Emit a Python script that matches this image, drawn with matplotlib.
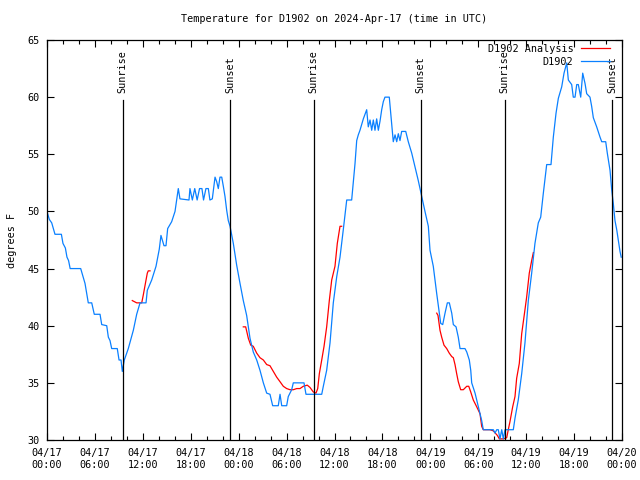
import matplotlib
matplotlib.use('Agg')
import matplotlib.pyplot as plt
import numpy as np
from matplotlib.ticker import MultipleLocator

plt.rcParams['font.family'] = 'DejaVu Sans Mono'
plt.rcParams['font.size'] = 7.3

# Zeit in Stunden ab 04/17 00:00 UTC
obs_h = [0, 0.29, 0.59, 1.0, 1.8, 2.0, 2.3, 2.5, 2.7, 2.9, 4.22, 4.47, 4.76, 4.97, 5.17,
         5.6, 5.92, 6.64, 6.85, 7.48, 7.68, 7.89, 8.1, 8.8, 9.02, 9.27, 9.43,
         9.68, 10.18, 10.81, 11.23, 11.65, 12.4, 12.56, 13.11, 13.65, 14.06, 14.27, 14.65,
         14.9, 15.11, 15.61, 16.03, 16.44, 16.65, 17.78, 17.9, 18.2, 18.5, 18.8, 19.1,
         19.4, 19.6, 19.9, 20.2, 20.4, 20.7, 21.04, 21.25, 21.45, 21.66, 21.88, 22.08,
         22.29, 22.5, 22.7, 22.92, 23.33, 23.75, 24.17, 24.58, 25.0, 25.42, 25.83, 26.26,
         26.67, 27.09, 27.51, 27.92, 28.26, 28.96, 29.18, 29.39, 30.01, 30.21, 30.64, 30.84,
         32.18, 32.43, 34.4, 34.6, 35.02, 35.44, 35.85, 36.28, 36.69, 37.1, 37.53, 38.15,
         38.35, 38.57, 38.78, 38.98, 39.19, 39.61, 40.03, 40.23, 40.45, 40.66, 40.86, 41.07,
         41.28, 41.49, 41.7, 41.91, 42.11, 42.32, 42.86, 43.16, 43.36, 43.58, 43.79, 43.99,
         44.2, 44.41, 44.92, 45.24, 45.67, 46.08, 46.49, 46.92, 47.33, 47.75, 47.96, 48.37,
         48.8, 49.12, 49.3, 49.55, 49.84, 50.13, 50.38, 50.68, 50.88, 51.22, 51.5, 51.72,
         52.34, 52.56, 52.88, 53.06, 53.18, 53.6, 54.01, 54.43, 54.63, 55.89, 56.1, 56.31,
         56.51, 56.72, 56.94, 57.14, 57.35, 58.39, 58.6, 59.01, 59.44, 59.85, 60.27, 60.69,
         61.1, 61.52, 61.82, 62.15, 62.57, 63.11, 63.4, 63.74, 64.03, 64.45, 64.74, 65.08,
         65.28, 65.7, 65.9, 66.12, 66.33, 66.53, 66.83, 67.08, 67.37, 67.58, 67.99, 68.2,
         68.41, 68.83, 69.25, 69.46, 69.96, 70.16, 70.5, 70.71, 70.91, 71.12, 71.34, 71.54,
         71.75, 71.9]
obs_t = [50, 49.3, 49, 48, 48, 47.2, 46.8, 46, 45.7, 45, 45, 44.4, 43.7, 42.8, 42,
         42, 41, 41, 40.1, 40, 39, 38.7, 38, 38, 37, 37, 36,
         37, 38, 39.6, 41, 42, 42, 43.1, 44, 45.2, 46.7, 47.9, 47,
         47, 48.5, 49.1, 50, 52, 51.1, 51, 52, 51, 52, 51, 52,
         52, 51, 52, 52, 51, 51.1, 53, 52.6, 52, 53, 53, 52.2,
         51.3, 50.1, 49.2, 48.7, 47.2, 45.3, 43.7, 42.2, 40.9, 38.9, 37.7, 37,
         36.1, 35, 34.1, 34, 33, 33, 34, 33, 33, 33.8, 34.4, 35,
         35, 34, 34, 34.7, 36.1, 38.5, 42, 44.3, 46, 48.4, 51, 51,
         52.5, 54.2, 56.2, 56.7, 57.1, 58.1, 58.9, 57.4, 58, 57.1, 58, 57.1,
         58.1, 57.1, 57.9, 58.9, 59.6, 60, 60, 57.6, 56.1, 56.7, 56.1, 56.8,
         56.2, 57, 57, 56.1, 55.1, 53.9, 52.7, 51.3, 50, 48.7, 46.6, 45.2,
         42.8, 41.1, 40.2, 40.1, 41.1, 42, 42, 41.1, 40.1, 39.9, 39, 38,
         38, 37.7, 37, 36.1, 35, 34.1, 32.9, 31.7, 30.9, 30.9, 30.6, 30.9,
         30.9, 30.1, 30.9, 30.1, 30.9, 30.9, 31.9, 33.5, 35.8, 38.5, 42.2, 44.6,
         47.2, 49, 49.5, 51.6, 54.1, 54.1, 56.5, 58.6, 59.9, 60.9, 62.1, 63,
         61.5, 61.1, 60, 60, 61.1, 61.1, 60, 62.1, 61.2, 60.3, 60, 59.2,
         58.2, 57.4, 56.5, 56.1, 56.1, 55.1, 53.6, 51.9, 50.7, 49.2, 48.4, 47.5,
         46.5, 46]

# Analyse (drei Abschnitte)
ana1_h = [10.68, 11.23, 11.86, 12.06, 12.4, 12.56, 12.68, 12.9]
ana1_t = [42.2, 42.0, 42.0, 42.7, 44, 44.6, 44.8, 44.8]
ana2_h = [24.58, 24.88, 25.21, 25.51, 25.83, 26.26, 26.67, 27.09, 27.51, 27.92, 28.34,
          28.76, 29.18, 29.59, 30.01, 30.43, 30.84, 31.27, 31.68, 32.09, 32.59, 32.93,
          33.35, 33.68, 33.9, 34.1, 34.4, 34.69, 35.02, 35.35, 35.65, 36.06, 36.35, 36.69, 36.9]
ana2_t = [39.9, 39.9, 38.9, 38.3, 38.2, 37.6, 37.2, 37, 36.6, 36.5, 36,
          35.5, 35.1, 34.7, 34.5, 34.4, 34.4, 34.5, 34.5, 34.7, 34.8, 34.6,
          34.2, 34.1, 34.5, 35.8, 37, 38.2, 39.9, 42.2, 44, 45.2, 47.2, 48.7, 48.7]
ana3_h = [48.8, 48.96, 49.21, 49.42, 49.71, 50.05, 50.37, 50.68, 50.88, 51.09, 51.3,
          51.5, 51.8, 52.13, 52.56, 52.81, 53.06, 53.38, 53.81, 54.22, 54.43, 54.63,
          55.47, 55.89, 56.39, 56.64, 57.14, 57.56, 57.76, 57.97, 58.31, 58.6, 58.81,
          59.14, 59.44, 59.85, 60.06, 60.39, 60.69, 60.9]
ana3_t = [41.1, 40.9, 39.6, 39, 38.3, 38, 37.6, 37.3, 37.2, 36.6, 35.8,
          35.1, 34.4, 34.4, 34.7, 34.7, 34.2, 33.5, 32.9, 32.3, 31.2, 30.9,
          30.9, 30.8, 30.4, 30.1, 30.1, 30.2, 30.9, 31.6, 32.9, 33.8, 35.4,
          36.7, 39.3, 41.4, 42.5, 44.6, 45.7, 46.4]

sun_h = [9.5, 22.9, 33.4, 46.8, 57.3, 70.8]
sun_labels = ['Sunrise', 'Sunset', 'Sunrise', 'Sunset', 'Sunrise', 'Sunset']

tick_h = list(range(0, 73, 6))
tick_labels = ['04/17\n00:00', '04/17\n06:00', '04/17\n12:00', '04/17\n18:00',
               '04/18\n00:00', '04/18\n06:00', '04/18\n12:00', '04/18\n18:00',
               '04/19\n00:00', '04/19\n06:00', '04/19\n12:00', '04/19\n18:00',
               '04/20\n00:00']

fig = plt.figure(figsize=(6.4, 4.8), dpi=100)
ax = fig.add_axes([47/640, 40/480, 575/640, 400/480])

red = '#ff0000'
blue = '#0a80ff'
ax.plot(ana1_h, ana1_t, color=red, lw=0.9, label='D1902 Analysis')
ax.plot(ana2_h, ana2_t, color=red, lw=0.9)
ax.plot(ana3_h, ana3_t, color=red, lw=0.9)
ax.plot(obs_h, obs_t, color=blue, lw=0.9, label='D1902')

for h, lab in zip(sun_h, sun_labels):
    ax.plot([h, h], [30, 59.75], color='black', lw=0.9)
    ax.text(h, 60.4, lab, rotation=90, ha='center', va='bottom')

ax.set_xlim(0, 72)
ax.set_ylim(30, 65)
ax.set_xticks(tick_h)
ax.set_xticklabels(tick_labels)
ax.xaxis.set_minor_locator(MultipleLocator(2))
ax.yaxis.set_major_locator(MultipleLocator(5))
ax.tick_params(which='both', direction='in', top=True, right=True, width=0.8)
ax.tick_params(which='major', length=5)
ax.tick_params(which='minor', length=3)
ax.tick_params(axis='x', pad=6)
ax.tick_params(axis='y', pad=5)
for s in ax.spines.values():
    s.set_linewidth(0.9)

ax.set_ylabel('degrees F', labelpad=8)
ax.set_title('Temperature for D1902 on 2024-Apr-17 (time in UTC)', pad=13,
             fontsize=7.3)

ax.legend(loc='upper right', bbox_to_anchor=(0.979, 0.99), frameon=False,
          markerfirst=False, handlelength=2.9, borderpad=0, borderaxespad=0,
          labelspacing=0.25, handletextpad=0.7)

fig.savefig('out.png', dpi=100)
